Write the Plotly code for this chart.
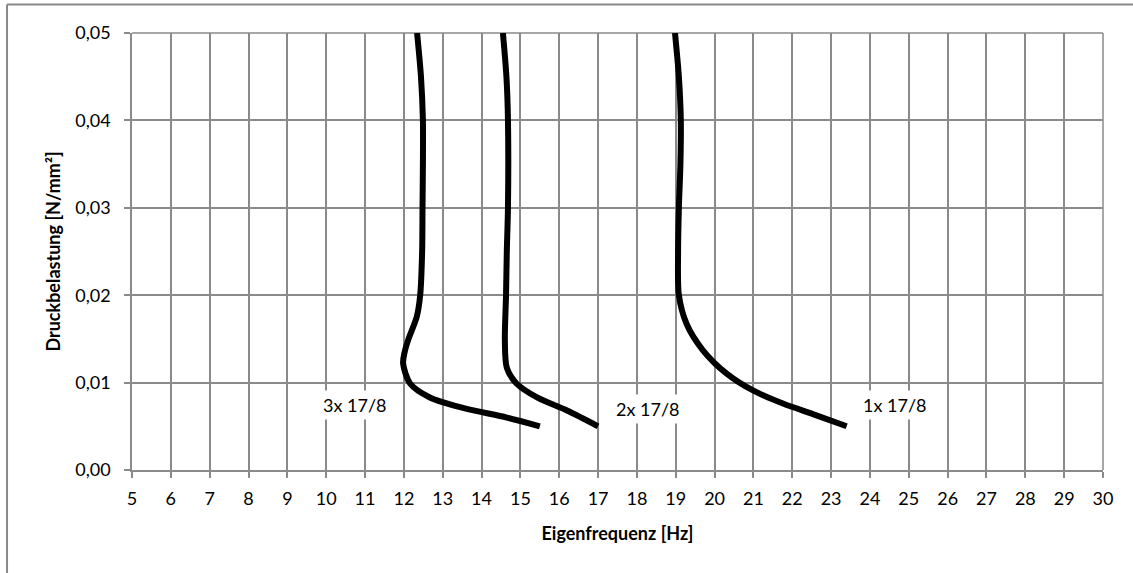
import plotly.graph_objects as go

# Curve data: Eigenfrequenz [Hz] (x) vs Druckbelastung [N/mm²] (y)
x_3x = [15.5, 14.65, 13.52, 12.67, 12.16, 11.98, 12.02, 12.12, 12.33, 12.42, 12.47, 12.48, 12.49, 12.49, 12.44, 12.34]
y_3x = [0.005, 0.006, 0.0071, 0.0083, 0.0099, 0.0122, 0.0135, 0.015, 0.0175, 0.02, 0.025, 0.03, 0.035, 0.04, 0.045, 0.05]

x_2x = [17.0, 16.2, 15.43, 14.9, 14.65, 14.6, 14.63, 14.65, 14.68, 14.68, 14.64, 14.55]
y_2x = [0.005, 0.0068, 0.0083, 0.0099, 0.0117, 0.0148, 0.02, 0.025, 0.03, 0.04, 0.045, 0.05]

x_1x = [23.4, 22.53, 21.76, 20.99, 20.32, 19.7, 19.28, 19.08, 19.06, 19.08, 19.12, 19.13, 19.08, 18.98]
y_1x = [0.005, 0.0064, 0.0076, 0.0091, 0.011, 0.0137, 0.0167, 0.02, 0.025, 0.03, 0.035, 0.04, 0.045, 0.05]

labels = ["3x 17/8", "2x 17/8", "1x 17/8"]
label_x = [10.73, 18.27, 24.64]
label_y = [0.00745, 0.0070, 0.00745]

x_ticks = list(range(5, 31))
y_ticks = [0.0, 0.01, 0.02, 0.03, 0.04, 0.05]

FONT = "Lato"
FS = 18
GRID = "#8a8a8a"

fig = go.Figure()
for xs, ys in [(x_3x, y_3x), (x_2x, y_2x), (x_1x, y_1x)]:
    fig.add_trace(go.Scatter(x=xs, y=ys, mode="lines",
                             line=dict(color="black", width=6, shape="spline", smoothing=0.8),
                             showlegend=False, hoverinfo="skip"))

for t, lx, ly in zip(labels, label_x, label_y):
    fig.add_annotation(x=lx, y=ly, xref="x", yref="y", text=t, showarrow=False,
                       font=dict(family=FONT, size=FS, color="black"),
                       bgcolor="white", borderpad=3)

# outer chart-area border (top and left edges visible)
fig.add_shape(type="line", xref="paper", yref="paper", x0=-0.1287, x1=1.05, y0=1.0652, y1=1.0652,
              line=dict(color="#888888", width=2))
fig.add_shape(type="line", xref="paper", yref="paper", x0=-0.1287, x1=-0.1287, y0=1.0652, y1=-0.3,
              line=dict(color="#888888", width=2))

# right and top edges of the plot area
fig.add_shape(type="line", xref="paper", yref="paper", x0=1, x1=1, y0=0, y1=1,
              line=dict(color=GRID, width=1.5), layer="below")
fig.add_shape(type="line", xref="paper", yref="paper", x0=0, x1=1, y0=1, y1=1,
              line=dict(color=GRID, width=1.5), layer="below")

fig.update_layout(
    width=1133, height=573,
    margin=dict(l=132, r=30, t=33, b=103),
    paper_bgcolor="white", plot_bgcolor="white",
    separators=",.",
    font=dict(family=FONT, size=FS, color="black"),
    xaxis=dict(range=[5, 30], tickvals=x_ticks, ticktext=[str(v) for v in x_ticks],
               showgrid=True, gridcolor=GRID, gridwidth=1.5,
               showline=True, linecolor=GRID, linewidth=1.5,
               ticks="outside", ticklen=6, tickcolor=GRID, tickwidth=1.5,
               ticklabelstandoff=6,
               zeroline=False,
               title=dict(text="<b>Eigenfrequenz [Hz]</b>", font=dict(family=FONT, size=FS), standoff=19),
               tickfont=dict(family=FONT, size=FS)),
    yaxis=dict(range=[0, 0.05], tickvals=y_ticks, tickformat=".2f",
               showgrid=True, gridcolor=GRID, gridwidth=1.5,
               showline=True, linecolor=GRID, linewidth=1.5,
               ticks="outside", ticklen=6, tickcolor=GRID, tickwidth=1.5,
               ticklabelstandoff=10,
               zeroline=False,
               title=dict(text="<b>Druckbelastung [N/mm²]</b>", font=dict(family=FONT, size=FS), standoff=10),
               tickfont=dict(family=FONT, size=FS)),
)

fig.write_html("out.html", config={"displayModeBar": False},
               post_script="document.body.style.margin='0px';")
